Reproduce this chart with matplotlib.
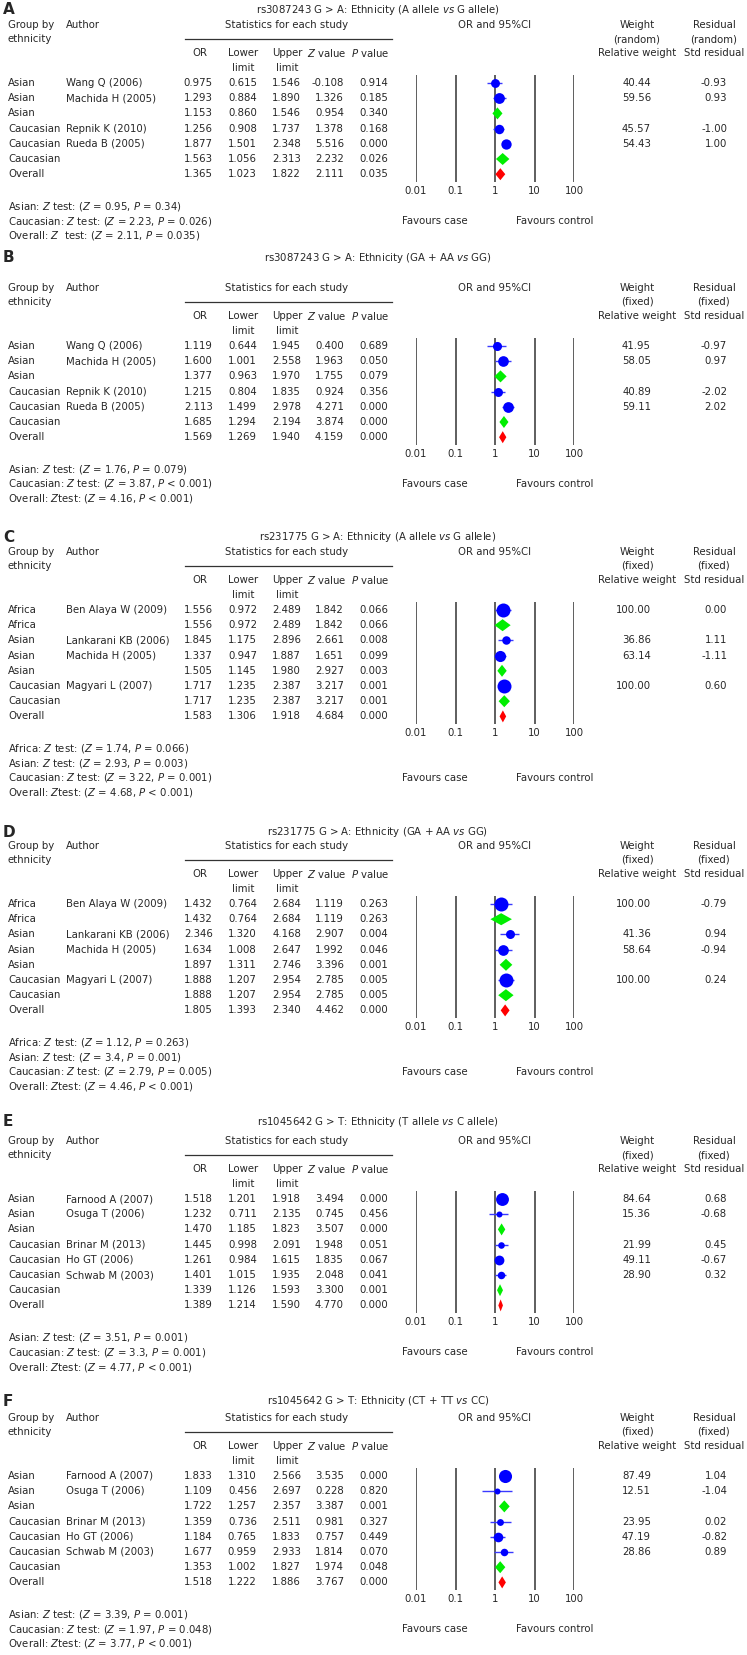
import matplotlib
matplotlib.use("Agg")
import matplotlib.pyplot as plt
from matplotlib import transforms
from matplotlib.lines import Line2D
from matplotlib.ticker import NullLocator

plt.rcParams['font.family'] = ['DejaVu Sans Condensed', 'DejaVu Sans']
plt.rcParams['mathtext.fontset'] = 'custom'
plt.rcParams['mathtext.rm'] = 'DejaVu Sans Condensed'
plt.rcParams['mathtext.it'] = 'DejaVu Sans Condensed:italic'

# ---- data -------------------------------------------------------------
# rs3087243 (panels A, B)
rs308_groups = ["Asian", "Asian", "Asian", "Caucasian", "Caucasian", "Caucasian", "Overall"]
rs308_authors = ["Wang Q (2006)", "Machida H (2005)", "", "Repnik K (2010)", "Rueda B (2005)", "", ""]

a_or = [0.975, 1.293, 1.153, 1.256, 1.877, 1.563, 1.365]
a_lower = [0.615, 0.884, 0.860, 0.908, 1.501, 1.056, 1.023]
a_upper = [1.546, 1.890, 1.546, 1.737, 2.348, 2.313, 1.822]
a_z = ["-0.108", "1.326", "0.954", "1.378", "5.516", "2.232", "2.111"]
a_p = ["0.914", "0.185", "0.340", "0.168", "0.000", "0.026", "0.035"]
a_weight = [40.44, 59.56, None, 45.57, 54.43, None, None]
a_resid = ["-0.93", "0.93", "", "-1.00", "1.00", "", ""]
a_tests = ["Asian: $Z$ test: ($Z$ = 0.95, $P$ = 0.34)",
           "Caucasian: $Z$ test: ($Z$ = 2.23, $P$ = 0.026)",
           "Overall: $Z$  test: ($Z$ = 2.11, $P$ = 0.035)"]

b_or = [1.119, 1.600, 1.377, 1.215, 2.113, 1.685, 1.569]
b_lower = [0.644, 1.001, 0.963, 0.804, 1.499, 1.294, 1.269]
b_upper = [1.945, 2.558, 1.970, 1.835, 2.978, 2.194, 1.940]
b_z = ["0.400", "1.963", "1.755", "0.924", "4.271", "3.874", "4.159"]
b_p = ["0.689", "0.050", "0.079", "0.356", "0.000", "0.000", "0.000"]
b_weight = [41.95, 58.05, None, 40.89, 59.11, None, None]
b_resid = ["-0.97", "0.97", "", "-2.02", "2.02", "", ""]
b_tests = ["Asian: $Z$ test: ($Z$ = 1.76, $P$ = 0.079)",
           "Caucasian: $Z$ test: ($Z$ = 3.87, $P$ < 0.001)",
           "Overall: $Z$test: ($Z$ = 4.16, $P$ < 0.001)"]

# rs231775 (panels C, D)
rs231_groups = ["Africa", "Africa", "Asian", "Asian", "Asian", "Caucasian", "Caucasian", "Overall"]
rs231_authors = ["Ben Alaya W (2009)", "", "Lankarani KB (2006)", "Machida H (2005)", "",
                 "Magyari L (2007)", "", ""]

c_or = [1.556, 1.556, 1.845, 1.337, 1.505, 1.717, 1.717, 1.583]
c_lower = [0.972, 0.972, 1.175, 0.947, 1.145, 1.235, 1.235, 1.306]
c_upper = [2.489, 2.489, 2.896, 1.887, 1.980, 2.387, 2.387, 1.918]
c_z = ["1.842", "1.842", "2.661", "1.651", "2.927", "3.217", "3.217", "4.684"]
c_p = ["0.066", "0.066", "0.008", "0.099", "0.003", "0.001", "0.001", "0.000"]
c_weight = [100.00, None, 36.86, 63.14, None, 100.00, None, None]
c_resid = ["0.00", "", "1.11", "-1.11", "", "0.60", "", ""]
c_tests = ["Africa: $Z$ test: ($Z$ = 1.74, $P$ = 0.066)",
           "Asian: $Z$ test: ($Z$ = 2.93, $P$ = 0.003)",
           "Caucasian: $Z$ test: ($Z$ = 3.22, $P$ = 0.001)",
           "Overall: $Z$test: ($Z$ = 4.68, $P$ < 0.001)"]

d_or = [1.432, 1.432, 2.346, 1.634, 1.897, 1.888, 1.888, 1.805]
d_lower = [0.764, 0.764, 1.320, 1.008, 1.311, 1.207, 1.207, 1.393]
d_upper = [2.684, 2.684, 4.168, 2.647, 2.746, 2.954, 2.954, 2.340]
d_z = ["1.119", "1.119", "2.907", "1.992", "3.396", "2.785", "2.785", "4.462"]
d_p = ["0.263", "0.263", "0.004", "0.046", "0.001", "0.005", "0.005", "0.000"]
d_weight = [100.00, None, 41.36, 58.64, None, 100.00, None, None]
d_resid = ["-0.79", "", "0.94", "-0.94", "", "0.24", "", ""]
d_tests = ["Africa: $Z$ test: ($Z$ = 1.12, $P$ = 0.263)",
           "Asian: $Z$ test: ($Z$ = 3.4, $P$ = 0.001)",
           "Caucasian: $Z$ test: ($Z$ = 2.79, $P$ = 0.005)",
           "Overall: $Z$test: ($Z$ = 4.46, $P$ < 0.001)"]

# rs1045642 (panels E, F)
rs104_groups = ["Asian", "Asian", "Asian", "Caucasian", "Caucasian", "Caucasian", "Caucasian", "Overall"]
rs104_authors = ["Farnood A (2007)", "Osuga T (2006)", "", "Brinar M (2013)", "Ho GT (2006)",
                 "Schwab M (2003)", "", ""]

e_or = [1.518, 1.232, 1.470, 1.445, 1.261, 1.401, 1.339, 1.389]
e_lower = [1.201, 0.711, 1.185, 0.998, 0.984, 1.015, 1.126, 1.214]
e_upper = [1.918, 2.135, 1.823, 2.091, 1.615, 1.935, 1.593, 1.590]
e_z = ["3.494", "0.745", "3.507", "1.948", "1.835", "2.048", "3.300", "4.770"]
e_p = ["0.000", "0.456", "0.000", "0.051", "0.067", "0.041", "0.001", "0.000"]
e_weight = [84.64, 15.36, None, 21.99, 49.11, 28.90, None, None]
e_resid = ["0.68", "-0.68", "", "0.45", "-0.67", "0.32", "", ""]
e_tests = ["Asian: $Z$ test: ($Z$ = 3.51, $P$ = 0.001)",
           "Caucasian: $Z$ test: ($Z$ = 3.3, $P$ = 0.001)",
           "Overall: $Z$test: ($Z$ = 4.77, $P$ < 0.001)"]

f_or = [1.833, 1.109, 1.722, 1.359, 1.184, 1.677, 1.353, 1.518]
f_lower = [1.310, 0.456, 1.257, 0.736, 0.765, 0.959, 1.002, 1.222]
f_upper = [2.566, 2.697, 2.357, 2.511, 1.833, 2.933, 1.827, 1.886]
f_z = ["3.535", "0.228", "3.387", "0.981", "0.757", "1.814", "1.974", "3.767"]
f_p = ["0.000", "0.820", "0.001", "0.327", "0.449", "0.070", "0.048", "0.000"]
f_weight = [87.49, 12.51, None, 23.95, 47.19, 28.86, None, None]
f_resid = ["1.04", "-1.04", "", "0.02", "-0.82", "0.89", "", ""]
f_tests = ["Asian: $Z$ test: ($Z$ = 3.39, $P$ = 0.001)",
           "Caucasian: $Z$ test: ($Z$ = 1.97, $P$ = 0.048)",
           "Overall: $Z$test: ($Z$ = 3.77, $P$ < 0.001)"]

letters = ["A", "B", "C", "D", "E", "F"]
titles = ["rs3087243 G > A: Ethnicity (A allele $vs$ G allele)",
          "rs3087243 G > A: Ethnicity (GA + AA $vs$ GG)",
          "rs231775 G > A: Ethnicity (A allele $vs$ G allele)",
          "rs231775 G > A: Ethnicity (GA + AA $vs$ GG)",
          "rs1045642 G > T: Ethnicity (T allele $vs$ C allele)",
          "rs1045642 G > T: Ethnicity (CT + TT $vs$ CC)"]
models = ["random", "fixed", "fixed", "fixed", "fixed", "fixed"]
tick_values = [0.01, 0.1, 1, 10, 100]
tick_labels = ["0.01", "0.1", "1", "10", "100"]

panels = [
    dict(groups=rs308_groups, authors=rs308_authors, orv=a_or, lo=a_lower, hi=a_upper, z=a_z, p=a_p,
         w=a_weight, res=a_resid, tests=a_tests),
    dict(groups=rs308_groups, authors=rs308_authors, orv=b_or, lo=b_lower, hi=b_upper, z=b_z, p=b_p,
         w=b_weight, res=b_resid, tests=b_tests),
    dict(groups=rs231_groups, authors=rs231_authors, orv=c_or, lo=c_lower, hi=c_upper, z=c_z, p=c_p,
         w=c_weight, res=c_resid, tests=c_tests),
    dict(groups=rs231_groups, authors=rs231_authors, orv=d_or, lo=d_lower, hi=d_upper, z=d_z, p=d_p,
         w=d_weight, res=d_resid, tests=d_tests),
    dict(groups=rs104_groups, authors=rs104_authors, orv=e_or, lo=e_lower, hi=e_upper, z=e_z, p=e_p,
         w=e_weight, res=e_resid, tests=e_tests),
    dict(groups=rs104_groups, authors=rs104_authors, orv=f_or, lo=f_lower, hi=f_upper, z=f_z, p=f_p,
         w=f_weight, res=f_resid, tests=f_tests),
]

# ---- layout (pixels) --------------------------------------------------
W, H = 747, 1655
label_y = [10, 258, 537, 832, 1122, 1401]
row0_y = [83, 346, 610, 904, 1199, 1476]
DY = 15.2
X_GROUP, X_AUTHOR = 8, 66
STAT_RIGHT = [213, 257, 301, 344, 388]
STAT_HEAD = [200, 243, 287, 327, 370]
X_LO, X_HI = 416, 574
X_WEIGHT, X_RESID = 651, 727
X_WHEAD, X_RHEAD = 637, 714
TXT = "#262626"
FS = 7.3

fig = plt.figure(figsize=(W / 100, H / 100), dpi=100)


def fx(x):
    return x / W


def fy(y):
    return 1 - y / H


def ftext(x, y, s, ha="left", **kw):
    fig.text(fx(x), fy(y), s, ha=ha, va="center", color=TXT, fontsize=kw.pop("fontsize", FS), **kw)


for k, p in enumerate(panels):
    n = len(p["orv"])
    r0 = row0_y[k]
    rN = r0 + (n - 1) * DY
    top, bot = r0 - 8, rN + 8

    # headers
    ftext(3, label_y[k], letters[k], fontsize=11, fontweight="bold")
    ftext(378, label_y[k], titles[k], ha="center")
    h1 = r0 - 58
    ftext(X_GROUP, h1, "Group by")
    ftext(X_GROUP, h1 + 14, "ethnicity")
    ftext(X_AUTHOR, h1, "Author")
    ftext(287, h1, "Statistics for each study", ha="center")
    fig.add_artist(Line2D([fx(185), fx(392)], [fy(r0 - 44)] * 2, color="#333333", lw=0.9))
    heads = ["OR", "Lower", "Upper", "$Z$ value", "$P$ value"]
    for xh, hd in zip(STAT_HEAD, heads):
        ftext(xh, r0 - 30, hd, ha="center")
    ftext(STAT_HEAD[1], r0 - 15, "limit", ha="center")
    ftext(STAT_HEAD[2], r0 - 15, "limit", ha="center")
    ftext(495, h1, "OR and 95%CI", ha="center")
    ftext(X_WHEAD, h1, "Weight", ha="center")
    ftext(X_WHEAD, h1 + 14, "(%s)" % models[k], ha="center")
    ftext(X_WHEAD, r0 - 30, "Relative weight", ha="center")
    ftext(X_RHEAD, h1, "Residual", ha="center")
    ftext(X_RHEAD, h1 + 14, "(%s)" % models[k], ha="center")
    ftext(X_RHEAD, r0 - 30, "Std residual", ha="center")

    # forest axes
    ax = fig.add_axes([fx(X_LO), fy(bot), (X_HI - X_LO) / W, (bot - top) / H])
    ax.set_xscale("log")
    ax.set_xlim(0.01, 100)
    ax.set_ylim(n - 1 + 8 / DY, -8 / DY)
    for s in ax.spines.values():
        s.set_visible(False)
    ax.set_yticks([])
    ax.set_xticks(tick_values)
    ax.set_xticklabels(tick_labels)
    ax.xaxis.set_minor_locator(NullLocator())
    ax.tick_params(axis="x", length=0, pad=2.8, labelsize=FS, labelcolor=TXT)
    ax.patch.set_alpha(0)
    for t in tick_values:
        ax.axvline(t, color="#333333", lw=1.1)

    trans = transforms.blended_transform_factory(fig.transFigure, ax.transData)
    hh = 6 / DY
    for i in range(n):
        g, a = p["groups"][i], p["authors"][i]
        cells = [("%.3f" % p["orv"][i]), ("%.3f" % p["lo"][i]), ("%.3f" % p["hi"][i]), p["z"][i], p["p"][i]]
        kw = dict(transform=trans, va="center", color=TXT, fontsize=FS)
        ax.text(fx(X_GROUP), i, g, ha="left", **kw)
        if a:
            ax.text(fx(X_AUTHOR), i, a, ha="left", **kw)
        for xr, c in zip(STAT_RIGHT, cells):
            ax.text(fx(xr), i, c, ha="right", **kw)
        if p["w"][i] is not None:
            ax.text(fx(X_WEIGHT), i, "%.2f" % p["w"][i], ha="right", **kw)
            ax.text(fx(X_RESID), i, p["res"][i], ha="right", **kw)

        orv, lo, hi = p["orv"][i], p["lo"][i], p["hi"][i]
        if a:
            ax.hlines(i, lo, hi, color="#3a3aff", lw=1.0, zorder=3)
            r = max(3.0, 7.0 * (p["w"][i] / 100) ** 0.5)
            ax.plot([orv], [i], "o", ms=2 * r * 0.72, color="#0000ff", mec="#0000ff", mew=0, zorder=4)
        else:
            col = "#ff0000" if g == "Overall" else "#00ee00"
            ax.fill([lo, orv, hi, orv], [i, i - hh, i, i + hh], color=col, lw=0, zorder=4)

    # z tests and favours
    zt_y = [rN + 32 + j * 14.8 for j in range(len(p["tests"]))]
    for y, s in zip(zt_y, p["tests"]):
        ftext(X_GROUP, y, s)
    ftext(435, zt_y[-2], "Favours case", ha="center")
    ftext(555, zt_y[-2], "Favours control", ha="center")

fig.savefig("out.png", dpi=100, facecolor="white")
